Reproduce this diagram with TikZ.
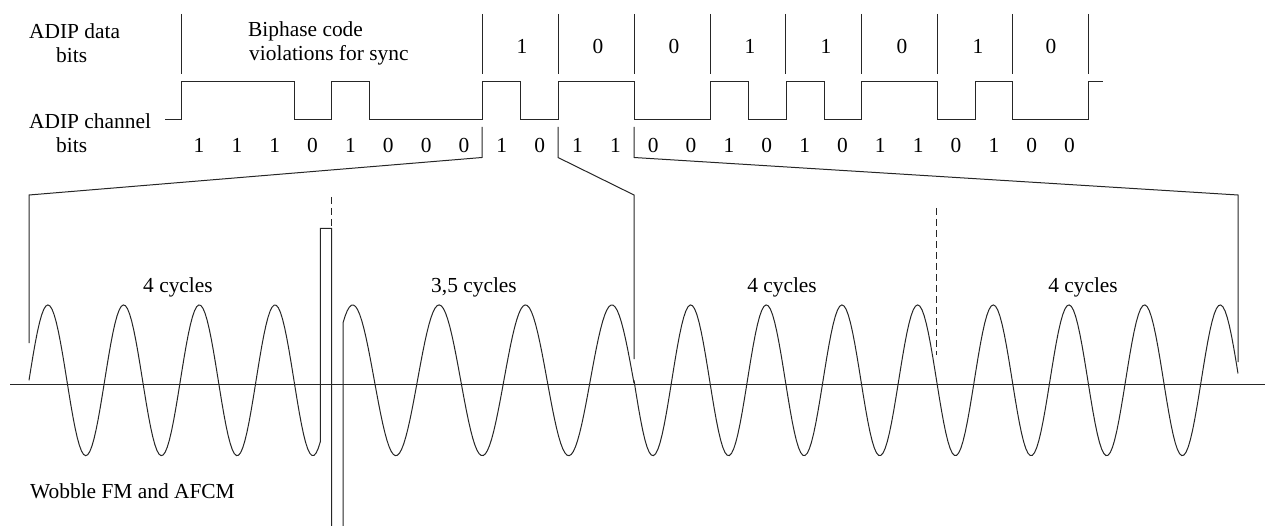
\documentclass[tikz,border=0pt]{standalone}
\usepackage{fontspec}
\setmainfont{Liberation Serif}
\tikzset{
  sig/.style={draw=black!85,line width=1pt,line join=miter},
  dashsig/.style={sig,dash pattern=on 7pt off 4pt},
  lbl/.style={inner sep=0pt,font=\fontsize{21.4}{24}\selectfont,text=black},
  lblleft/.style={lbl,anchor=west},
}
\begin{document}
\begin{tikzpicture}[x=1pt,y=-1pt]
\useasboundingbox (0,0) rectangle (1265,526);
% labels
\node[lblleft] (t1) at (29,31) {ADIP data};
\node[lblleft] (t2) at (56,55) {bits};
\node[lblleft] (t3) at (248,31) {Biphase code};
\node[lblleft] (t4) at (249,55) {violations for sync};
\node[lblleft] (t5) at (29,121) {ADIP channel};
\node[lblleft] (t6) at (56,145) {bits};
\node[lblleft] (t7) at (30,491) {Wobble FM and AFCM};
\node[lbl] (c1) at (178,287) {4 cycles};
\node[lbl] (c2) at (474,287) {3,5 cycles};
\node[lbl] (c3) at (782,287) {4 cycles};
\node[lbl] (c4) at (1083,287) {4 cycles};
% data bit separators
\foreach \x in {181,482,558,634,710,785.5,861.5,937,1012.5,1088}
  \draw[sig] (\x,14) -- (\x,74);
\foreach \x/\b [count=\i] in {522/1,598/0,674/0,750/1,826/1,902/0,978/1,1051/0}
  \node[lbl] (d\i) at (\x,46) {\b};
% channel waveform
\draw[sig] (165,119.5) -- (181,119.5) |- (294,81.5) |- (331.5,119.5) |- (369,81.5) |- (482,119.5)
  |- (520,81.5) |- (558,119.5) |- (634,81.5) |- (710,119.5) |- (748,81.5) |- (786,119.5)
  |- (824,81.5) |- (861.5,119.5) |- (937.5,81.5) |- (975,119.5) |- (1012,81.5) |- (1088,119.5)
  |- (1103,81.5);
% channel bits
\foreach \b [count=\i from 0] in {1,1,1,0,1,0,0,0,1,0,1,1,0,0,1,0,1,0,1,1,0,1,0,0}
  \node[lbl] (b\i) at ({199+37.85*\i},145) {\b};
% zoom leaders
\draw[sig] (482,127) -- (482,157.5) -- (29,195) -- (29,343);
\draw[sig] (558,127) -- (558,157.5) -- (634,195) -- (634,359);
\draw[sig] (634,127) -- (634,157.5) -- (1238,195) -- (1238,362);
% dashed bit boundaries
\draw[dashsig] (331.5,197) -- (331.5,226);
\draw[dashsig] (936.5,208) -- (936.5,355);
% axis
\draw[sig] (10,384) -- (1265,384);
% wobble
\draw[sig] plot[domain=29:320.3,samples=140] (\x,{380.3-75.4*sin(4.7556*(\x-29))})
  -- (320.3,228.3) -- (331.5,228.3) -- (331.5,526);
\draw[sig] (343,526) -- (343,323) -- plot[domain=343:634,samples=140] (\x,{380.3-75.4*cos(4.1667*(\x-352.7))});
\draw[sig] plot[domain=634:1238,samples=280] (\x,{380.3-75.4*cos(4.7594*(\x-690.7))});
\end{tikzpicture}
\end{document}
